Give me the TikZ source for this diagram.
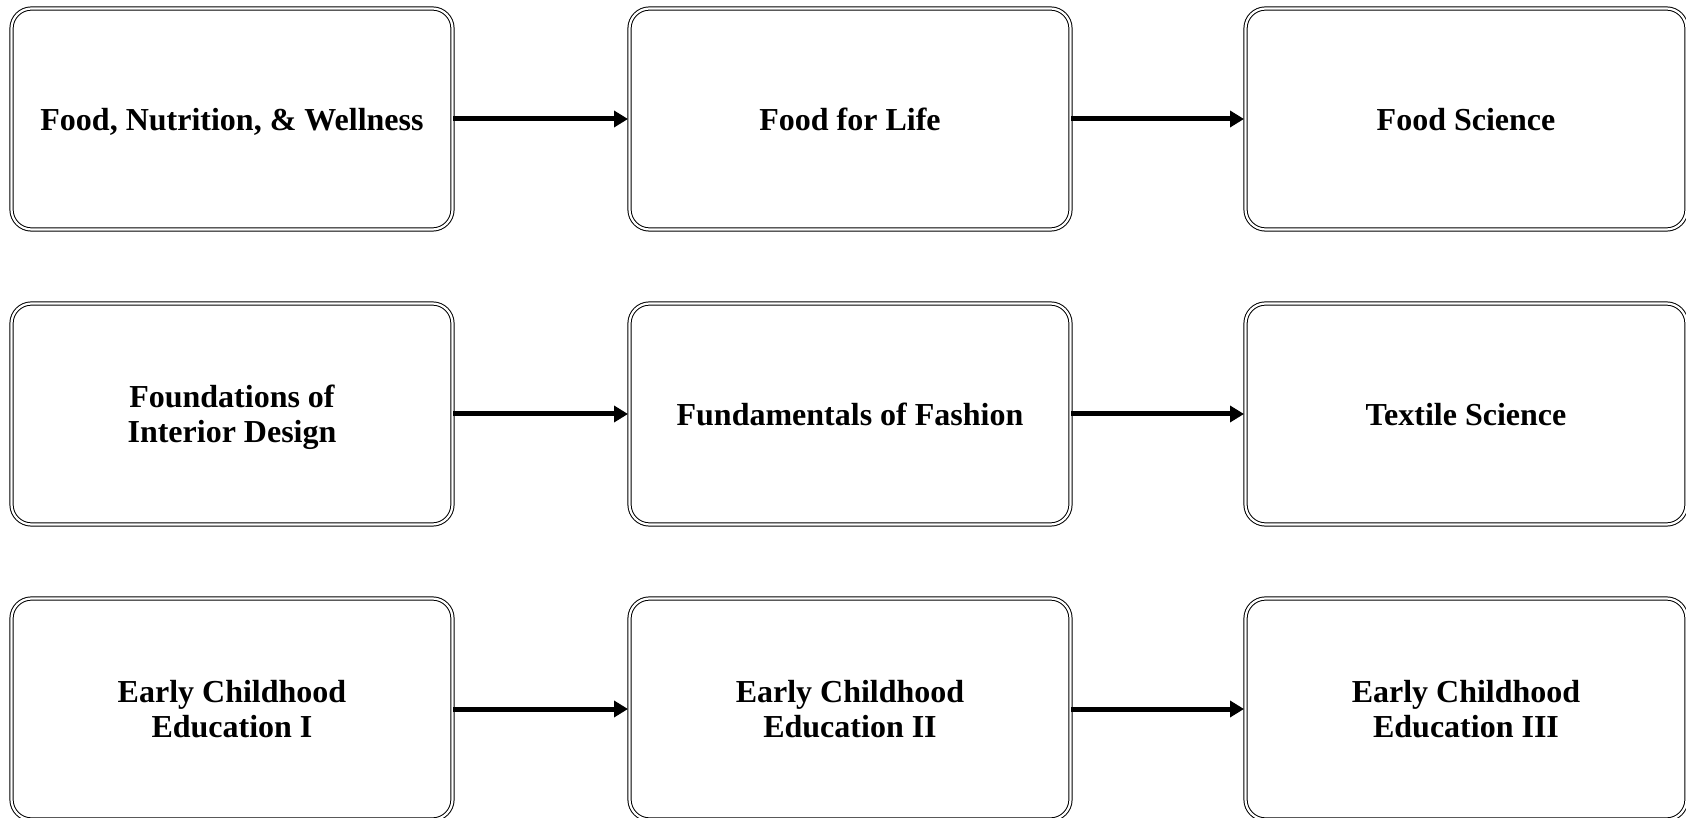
\documentclass[tikz,border=0pt]{standalone}
\usepackage{fontspec}
\setmainfont{Liberation Serif}
\usetikzlibrary{arrows.meta}
\begin{document}
\begin{tikzpicture}[x=1pt,y=1pt,
  course/.style={draw=black, line width=1pt, double=white, double distance=2.2pt,
    rounded corners=20pt, minimum width=441pt, minimum height=221pt,
    align=center, font=\fontsize{32}{35}\selectfont\bfseries, inner sep=0pt,
    text depth=0pt},
  flow/.style={line width=5pt, -{Triangle[length=14pt,width=16pt]}, shorten >=1pt}]
\useasboundingbox (0,0) rectangle (1686,817);
% row 1: food
\node[course] (f1) at (232,698) {Food, Nutrition, \& Wellness};
\node[course] (f2) at (850,698) {Food for Life};
\node[course] (f3) at (1466,698) {Food Science};
% row 2: design and textiles
\node[course] (d1) at (232,403) {Foundations of\\Interior Design};
\node[course] (d2) at (850,403) {Fundamentals of Fashion};
\node[course] (d3) at (1466,403) {Textile Science};
% row 3: early childhood
\node[course] (e1) at (232,108) {Early Childhood\\Education I};
\node[course] (e2) at (850,108) {Early Childhood\\Education II};
\node[course] (e3) at (1466,108) {Early Childhood\\Education III};
% sequence arrows
\draw[flow] (f1.east) -- (f2.west);
\draw[flow] (f2.east) -- (f3.west);
\draw[flow] (d1.east) -- (d2.west);
\draw[flow] (d2.east) -- (d3.west);
\draw[flow] (e1.east) -- (e2.west);
\draw[flow] (e2.east) -- (e3.west);
\end{tikzpicture}
\end{document}
